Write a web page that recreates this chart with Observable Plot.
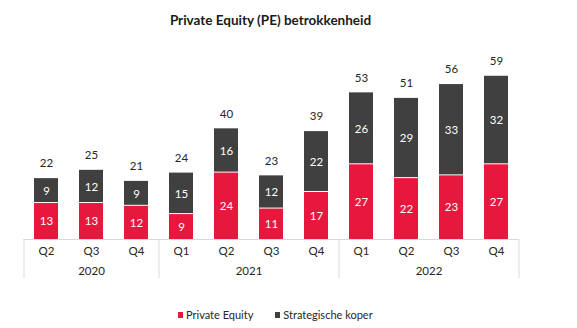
<!DOCTYPE html>
<html>
<head>
<meta charset="utf-8">
<script src="https://cdn.jsdelivr.net/npm/d3@7"></script>
<script src="https://cdn.jsdelivr.net/npm/@observablehq/plot@0.6"></script>
<style>
  html, body { margin: 0; padding: 0; background: #fff; }
  body { width: 577px; height: 328px; position: relative; overflow: hidden; font-family: Lato, "DejaVu Sans", sans-serif; }
  #title { position: absolute; top: 12px; left: 0; width: 541px; text-align: center; font-weight: bold; font-size: 13.5px; line-height: 16px; color: #1a1a1a; }
  #chart { position: absolute; top: 38px; left: 0; }
  #legend { position: absolute; top: 307px; left: 178px; font-size: 11px; line-height: 16px; color: #262626; display: flex; align-items: center; }
  .sw { display: inline-block; width: 5px; height: 6px; margin-right: 3px; }
  .item { display: flex; align-items: center; margin-right: 22px; }
</style>
</head>
<body>
<div id="title">Private Equity (PE) betrokkenheid</div>
<div id="chart"></div>
<div id="legend"></div>
<script>
const years    = ["2020","2020","2020","2021","2021","2021","2021","2022","2022","2022","2022"];
const quarters = ["Q2","Q3","Q4","Q1","Q2","Q3","Q4","Q1","Q2","Q3","Q4"];
const privateEquity = [13,13,12,9,24,11,17,27,22,23,27];
const strategisch   = [9,12,9,15,16,12,22,26,29,33,32];
const seriesNames = ["Private Equity", "Strategische koper"];
const colors = ["#e8173d", "#404040"];

const half = 0.2667;
const rows = quarters.map((q, i) => ({
  i, q, year: years[i],
  pe: privateEquity[i], st: strategisch[i],
  total: privateEquity[i] + strategisch[i]
}));

const yearNames = [...new Set(years)];
const yearGroups = yearNames.map(y => {
  const idx = rows.filter(r => r.year === y).map(r => r.i);
  return {year: y, mid: d3.mean(idx), start: d3.min(idx) - 0.5, end: d3.max(idx) + 0.5};
});
const boundaries = [...new Set(yearGroups.flatMap(g => [g.start, g.end]))];

const textColor = "#262626";
const chart = Plot.plot({
  width: 577,
  height: 262,
  marginLeft: 23.5,
  marginRight: 58.5,
  marginTop: 35,
  marginBottom: 61,
  style: {fontFamily: "Lato, 'DejaVu Sans', sans-serif", fontSize: "11px", color: textColor, background: "white"},
  x: {domain: [-0.5, 10.5], axis: null},
  y: {domain: [0, 60], axis: null},
  marks: [
    Plot.ruleY([0], {stroke: "#d9d9d9"}),
    Plot.axisX(boundaries, {tickSize: 39, stroke: "#d9d9d9", tickFormat: () => "", tickPadding: 0}),
    Plot.rectY(rows, {x1: d => d.i - half, x2: d => d.i + half, y1: 0, y2: "pe", fill: colors[0]}),
    Plot.rectY(rows, {x1: d => d.i - half, x2: d => d.i + half, y1: "pe", y2: "total", fill: colors[1], insetBottom: 1}),
    Plot.text(rows, {x: "i", y: d => d.pe / 2, text: "pe", fill: "white", fontSize: 11.5}),
    Plot.text(rows, {x: "i", y: d => d.pe + d.st / 2, text: "st", fill: "white", fontSize: 11.5}),
    Plot.text(rows, {x: "i", y: "total", text: "total", dy: -15, fill: textColor, fontSize: 11.5}),
    Plot.text(rows, {x: "i", frameAnchor: "bottom", dy: 15, text: "q", fill: textColor, fontSize: 11.5}),
    Plot.text(yearGroups, {x: "mid", frameAnchor: "bottom", dy: 35, text: "year", fill: textColor, fontSize: 11.5})
  ]
});
document.getElementById("chart").appendChild(chart);

const legend = document.getElementById("legend");
seriesNames.forEach((name, k) => {
  const item = document.createElement("span");
  item.className = "item";
  const sw = document.createElement("span");
  sw.className = "sw";
  sw.style.background = colors[k];
  item.appendChild(sw);
  item.appendChild(document.createTextNode(name));
  legend.appendChild(item);
});
</script>
</body>
</html>
